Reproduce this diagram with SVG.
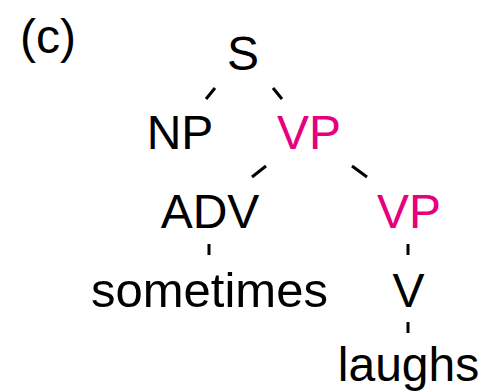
<svg xmlns="http://www.w3.org/2000/svg" width="483" height="392" viewBox="0 0 483 392">
  <style>
    text { font-family: "Liberation Sans", Arial, sans-serif; font-size: 48px; fill: #000; text-anchor: middle; }
    text.hl { fill: #E6007E; }
    .edges line { stroke: #000; stroke-width: 3; }
  </style>
  <rect width="483" height="392" fill="#fff"/>
  <text x="20" y="53" style="text-anchor:start">(c)</text>

  <g class="edges">
    <line x1="206" y1="99" x2="215" y2="88"/>
    <line x1="273" y1="88" x2="282" y2="99"/>
    <line x1="252" y1="177" x2="266" y2="166"/>
    <line x1="352" y1="166" x2="367" y2="177"/>
    <line x1="209" y1="244" x2="209" y2="255"/>
    <line x1="408" y1="244" x2="408" y2="255"/>
    <line x1="408" y1="322" x2="408" y2="333"/>
  </g>

  <g id="S"><text x="243" y="70">S</text></g>
  <g id="NP"><text x="180" y="149">NP</text></g>
  <g id="VP1"><text class="hl" x="309" y="149">VP</text></g>
  <g id="ADV"><text x="210" y="228">ADV</text></g>
  <g id="VP2"><text class="hl" x="409" y="228">VP</text></g>
  <g id="sometimes"><text x="209.5" y="307" style="font-size:49px">sometimes</text></g>
  <g id="V"><text x="408.5" y="307">V</text></g>
  <g id="laughs"><text x="408.5" y="381">laughs</text></g>
</svg>
